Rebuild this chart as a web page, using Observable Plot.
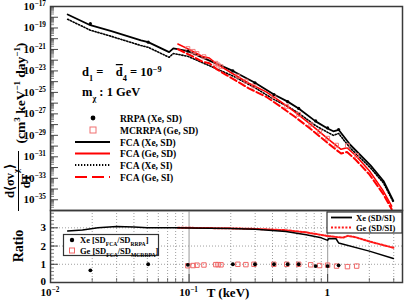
<!DOCTYPE html>
<html><head><meta charset="utf-8">
<script src="https://cdn.jsdelivr.net/npm/d3@7"></script>
<script src="https://cdn.jsdelivr.net/npm/@observablehq/plot@0.6"></script>
<style>
body{margin:0;background:#fff;}
#chart{position:relative;width:415px;height:300px;}
#chart svg{position:absolute;left:0;overflow:visible;}
#chart svg text{white-space:pre;}
</style></head><body><div id="chart"></div>
<script>
// ---------- data ----------
const T_xe = [0.0133,0.0194,0.0275,0.045,0.0507,0.0718,0.077,0.098,0.207,0.299,0.41,0.515,0.618,0.82,1.0,1.1,1.2,1.46,2.04,2.53,2.98];
const xeSD = [1.8e-18,1.8e-19,5.0e-20,7.1e-21,4.8e-21,5.6e-22,1.26e-21,6.9e-22,1.0e-23,7.9e-25,6.3e-26,1.38e-26,3.2e-27,2.0e-28,4.4e-29,2.4e-29,3.3e-29,1.26e-30,1.6e-32,5.6e-34,7.9e-36];
const xeSI = [6.5e-19,6.2e-20,1.66e-20,2.3e-21,1.58e-21,1.86e-22,4.2e-22,2.3e-22,3.4e-24,2.7e-25,2.2e-26,4.9e-27,1.15e-27,7.9e-29,1.9e-29,1.0e-29,1.5e-29,6.2e-31,9.1e-33,3.7e-34,6.0e-36];
const T_ge = [0.083,0.1,0.125,0.14,0.16,0.2,0.27,0.36,0.45,0.57,0.75,1.0,1.25,1.38,1.6,2.0,2.5,2.9];
const geSD = [3.2e-21,1.0e-21,2.2e-22,1.6e-22,4.0e-23,7.1e-24,7.1e-25,1.12e-25,1.6e-26,1.8e-27,1.12e-28,5.0e-30,5.0e-31,7.0e-31,1.26e-31,5.0e-33,7.9e-35,2.5e-36];
const geSI = [1.05e-21,3.3e-22,7.4e-23,5.2e-23,1.3e-23,2.4e-24,2.4e-25,3.9e-26,5.5e-27,6.3e-28,4.2e-29,1.95e-30,2.0e-31,2.8e-31,5.1e-32,2.3e-33,4.0e-35,1.3e-36];
const T_rrpa = [0.0194,0.0507,0.098,0.207,0.299,0.41,0.515,0.618,0.82,1.0,1.2];
const rrpa = [2.5e-19,4.8e-21,7.1e-22,1.0e-23,7.9e-25,6.3e-26,1.38e-26,3.2e-27,2.2e-28,4.9e-29,3.5e-29];
const ratioXeRRPA = [0.67,1.0,0.97,1.0,1.0,1.0,1.0,1.0,0.9,0.9,0.94];
const T_mc = [0.098,0.107,0.114,0.128,0.156,0.162,0.170,0.225,0.257,0.294,0.409,0.507,0.618,0.755,0.875,1.0,1.16,1.39,1.62];
const mcrrpa = [1.2e-21,6.6e-22,4.2e-22,2.1e-22,5.1e-23,3.6e-23,2.5e-23,3.2e-24,1.1e-24,4.0e-25,4.0e-26,5.0e-27,8.9e-28,1.07e-28,2.3e-29,5.3e-30,1.2e-30,1.1e-30,1.35e-31];
const ratioGeMC = [0.92,0.93,0.95,0.96,0.98,0.98,0.97,1.0,0.98,1.0,1.0,1.0,1.0,0.97,0.93,0.95,0.9,0.87,0.9];
const T_rXe = [0.0133,0.017,0.022,0.03,0.04,0.05,0.08,0.1,0.2,0.3,0.5,0.7,0.9,1.0,1.02,1.15,1.2,2.0,2.98];
const rXe = [2.83,2.88,3.0,3.07,3.04,3.0,3.0,2.99,2.96,2.92,2.8,2.62,2.45,2.31,2.42,2.4,2.17,1.72,1.32];
const T_rGe = [0.083,0.1,0.2,0.3,0.5,0.7,1.0,1.2,1.3,1.4,1.6,2.0,3.0];
const rGe = [3.0,3.0,2.97,2.94,2.87,2.75,2.55,2.48,2.47,2.56,2.48,2.25,1.9];

const yTickLabels = ["10^−17","10^−19","10^−21","10^−23","10^−25","10^−27","10^−29","10^−31","10^−33","10^−35"];
const yTickValues = [1e-17,1e-19,1e-21,1e-23,1e-25,1e-27,1e-29,1e-31,1e-33,1e-35];
const xTickLabels = ["10^−2","10^−1","1"];
const xTickValues = [0.01,0.1,1];
const rTickValues = [0,1,2,3];
const legendTop = ["RRPA (Xe, SD)","MCRRPA (Ge, SD)","FCA (Xe, SD)","FCA (Ge, SD)","FCA (Xe, SI)","FCA (Ge, SI)"];

// ---------- helpers ----------
const zip = (xs, ys) => xs.map((x, i) => ({T: x, v: ys[i]}));
const FONT = "'Liberation Serif','Times New Roman',serif";
const NB = "\u00A0";
const W = 415, ML = 50, MR = 13, PW = W - ML - MR;
const decades = d3.range(-36, -16);
const minorY = decades.flatMap(e => d3.range(2, 10).map(k => k * 10 ** e)).filter(v => v < 1e-17);
const majorY = decades.map(e => 10 ** e);
const minorX = [-2, -1, 0].flatMap(e => d3.range(2, 10).map(k => k * 10 ** e)).filter(v => v < 3.47);
const X = {type: "log", domain: [0.01, 3.47], axis: null};
const frameCol = "#3a3a3a";

// ---------- top panel ----------
const topPlot = Plot.plot({
  width: W, height: 210, marginLeft: ML, marginRight: MR, marginTop: 6, marginBottom: 0,
  x: X,
  y: {type: "log", domain: [1e-36, 1e-17], axis: null},
  style: {background: "transparent"},
  marks: [
    Plot.tickY(minorY, {y: d => d, insetRight: PW - 4, stroke: "#555", strokeWidth: 0.7}),
    Plot.tickY(majorY, {y: d => d, insetRight: PW - 8, stroke: "#333", strokeWidth: 0.9}),
    Plot.line(zip(T_xe, xeSI), {x: "T", y: "v", stroke: "black", strokeWidth: 1.6, strokeDasharray: "1.3,1.7", clip: true}),
    Plot.line(zip(T_xe, xeSD), {x: "T", y: "v", stroke: "black", strokeWidth: 1.8, clip: true}),
    Plot.line(zip(T_ge, geSD), {x: "T", y: "v", stroke: "#ff0000", strokeWidth: 1.5, clip: true}),
    Plot.line(zip(T_ge, geSI), {x: "T", y: "v", stroke: "#ff0000", strokeWidth: 2, strokeDasharray: "7,3", clip: true}),
    Plot.dot(zip(T_mc, mcrrpa), {x: "T", y: "v", symbol: "square", r: 2.2, stroke: "#f07070", strokeWidth: 0.9, fill: "none"}),
    Plot.dot(zip(T_rrpa, rrpa), {x: "T", y: "v", r: 1.6, fill: "black"}),
    Plot.frame({stroke: frameCol, strokeWidth: 1.5})
  ]
});

// ---------- ratio panel ----------
const botPlot = Plot.plot({
  width: W, height: 90, marginLeft: ML, marginRight: MR, marginTop: 0, marginBottom: 18,
  x: X,
  y: {domain: [0, 3.95], axis: null},
  style: {background: "transparent"},
  marks: [
    Plot.ruleX(minorX, {x: d => d, stroke: "#888", strokeWidth: 0.8, strokeDasharray: "1,2"}),
    Plot.ruleX([0.1, 1], {x: d => d, stroke: "#aaa", strokeWidth: 1.2}),
    Plot.ruleY([1, 2, 3], {y: d => d, stroke: "#888", strokeWidth: 0.8, strokeDasharray: "1,2"}),
    Plot.tickY(d3.range(0, 3.95, 0.2), {y: d => d, insetRight: PW - 4, stroke: "#444", strokeWidth: 0.7}),
    Plot.tickY(rTickValues, {y: d => d, insetRight: PW - 8, stroke: "#333", strokeWidth: 0.9}),
    Plot.tickX(minorX, {x: d => d, insetTop: 72 - 4, stroke: "#444", strokeWidth: 0.7}),
    Plot.tickX(xTickValues, {x: d => d, insetTop: 72 - 8, stroke: "#333", strokeWidth: 0.9}),
    Plot.line(zip(T_rGe, rGe), {x: "T", y: "v", stroke: "#ff1a1a", strokeWidth: 2, strokeDasharray: "2,1.6"}),
    Plot.line(zip(T_rXe, rXe), {x: "T", y: "v", stroke: "black", strokeWidth: 1.5}),
    Plot.dot(zip(T_mc, ratioGeMC), {x: "T", y: "v", symbol: "square", r: 2.5, stroke: "#f06868", strokeWidth: 1, fill: "none"}),
    Plot.dot(zip(T_rrpa, ratioXeRRPA), {x: "T", y: "v", r: 1.9, fill: "black"}),
    Plot.frame({stroke: frameCol, strokeWidth: 1.5})
  ]
});

const chart = document.getElementById("chart");
topPlot.style.top = "0px";
botPlot.style.top = "210px";
chart.append(topPlot, botPlot);

// ---------- overlay text (titles, tick labels, legends) ----------
const ov = d3.select(chart).append("svg").attr("width", W).attr("height", 300)
  .style("top", "0px").attr("font-family", FONT).attr("font-weight", "bold").attr("fill", "black");

function rich(sel, parts, size) {
  sel.attr("font-size", size);
  parts.forEach(([t, k]) => {
    const ts = sel.append("tspan").text(t.replace(/ /g, NB));
    if (k === "sup") ts.attr("baseline-shift", "super").attr("font-size", size * 0.66);
    if (k === "sub") ts.attr("baseline-shift", "sub").attr("font-size", size * 0.66);
    if (k === "over") ts.style("text-decoration", "overline");
  });
  return sel;
}
function powParts(s) {
  const i = s.indexOf("^");
  return i < 0 ? [[s, null]] : [[s.slice(0, i), null], [s.slice(i + 1), "sup"]];
}

const ys = topPlot.scale("y"), xs = topPlot.scale("x"), rs = botPlot.scale("y");
yTickValues.forEach((v, i) => {
  rich(ov.append("text").attr("x", 46).attr("y", ys.apply(v) + 4).attr("text-anchor", "end"), powParts(yTickLabels[i]), 11);
});
rTickValues.forEach(v => {
  ov.append("text").attr("x", 46).attr("y", 210 + rs.apply(v) + (v === 0 ? 2.5 : 4)).attr("text-anchor", "end").attr("font-size", 11).text(String(v));
});
xTickValues.forEach((v, i) => {
  rich(ov.append("text").attr("x", xs.apply(v)).attr("y", 296).attr("text-anchor", "middle"), powParts(xTickLabels[i]), 11);
});
ov.append("text").attr("x", 228).attr("y", 297).attr("text-anchor", "middle").attr("font-size", 13).text("T (keV)");
ov.append("text").attr("transform", "translate(23,246) rotate(-90)").attr("text-anchor", "middle").attr("font-size", 14).text("Ratio");

// y label of top panel
rich(ov.append("text").attr("transform", "translate(24.5,93) rotate(-90)").attr("text-anchor", "middle"),
  [["(cm", null], ["3", "sup"], [" keV", null], ["−1", "sup"], [" day", null], ["−1", "sup"], [")", null]], 13.5);
rich(ov.append("text").attr("transform", "translate(14,181) rotate(-90)").attr("text-anchor", "middle"),
  [["d⟨σv", null], ["χ", "sub"], ["⟩", null]], 12.5);
ov.append("line").attr("x1", 18.5).attr("x2", 18.5).attr("y1", 151).attr("y2", 211).attr("stroke", "black").attr("stroke-width", 1);
ov.append("text").attr("transform", "translate(29.5,181) rotate(-90)").attr("text-anchor", "middle").attr("font-size", 12).text("dT");

// annotations
rich(ov.append("text").attr("x", 82).attr("y", 76),
  [["d", null], ["1", "sub"], [" =    ", null], ["d", "over"], ["4", "sub"], [" = 10", null], ["−9", "sup"]], 12.5);
rich(ov.append("text").attr("x", 82).attr("y", 96), [["m", null], ["χ", "sub"], [" : 1 GeV", null]], 12.5);

// top legend
const legY = [118, 130, 142, 153.5, 165, 177];
legendTop.forEach((t, i) => ov.append("text").attr("x", 120).attr("y", legY[i] + 3.5).attr("font-size", 9.5).text(t));
ov.append("circle").attr("cx", 93).attr("cy", legY[0]).attr("r", 2.4);
ov.append("rect").attr("x", 90).attr("y", legY[1] - 3).attr("width", 6).attr("height", 6).attr("fill", "none").attr("stroke", "#f07070").attr("stroke-width", 1);
const legLine = (y, stroke, w, dash) => ov.append("line").attr("x1", 75).attr("x2", 110).attr("y1", y).attr("y2", y)
  .attr("stroke", stroke).attr("stroke-width", w).attr("stroke-dasharray", dash);
legLine(legY[2], "black", 2, null);
legLine(legY[3], "#ff0000", 2, null);
legLine(legY[4], "black", 1.8, "1.3,1.7");
legLine(legY[5], "#ff0000", 2.2, "12,5");

// ratio legend 1
ov.append("rect").attr("x", 63.5).attr("y", 234.5).attr("width", 95).attr("height", 21).attr("fill", "white").attr("stroke", "#333").attr("stroke-width", 1.2);
ov.append("circle").attr("cx", 72).attr("cy", 240).attr("r", 2.2);
ov.append("rect").attr("x", 69.5).attr("y", 248).attr("width", 5).attr("height", 5).attr("fill", "none").attr("stroke", "#f06868").attr("stroke-width", 1);
rich(ov.append("text").attr("x", 80).attr("y", 243), [["Xe [SD", null], ["FCA", "sub"], ["/SD", null], ["RRPA", "sub"], ["]", null]], 8.5);
rich(ov.append("text").attr("x", 80).attr("y", 253.5), [["Ge [SD", null], ["FCA", "sub"], ["/SD", null], ["MCRRPA", "sub"], ["]", null]], 8.5);

// ratio legend 2
ov.append("rect").attr("x", 327).attr("y", 212).attr("width", 75).attr("height", 21).attr("fill", "white").attr("stroke", "#333").attr("stroke-width", 1.2);
ov.append("line").attr("x1", 331).attr("x2", 352).attr("y1", 217.5).attr("y2", 217.5).attr("stroke", "black").attr("stroke-width", 1.8);
ov.append("line").attr("x1", 331).attr("x2", 352).attr("y1", 227.5).attr("y2", 227.5).attr("stroke", "#ff1a1a").attr("stroke-width", 2).attr("stroke-dasharray", "2,1.6");
ov.append("text").attr("x", 356).attr("y", 220.5).attr("font-size", 8.5).text("Xe (SD/SI)");
ov.append("text").attr("x", 356).attr("y", 230.5).attr("font-size", 8.5).text("Ge (SD/SI)");
</script></body></html>
